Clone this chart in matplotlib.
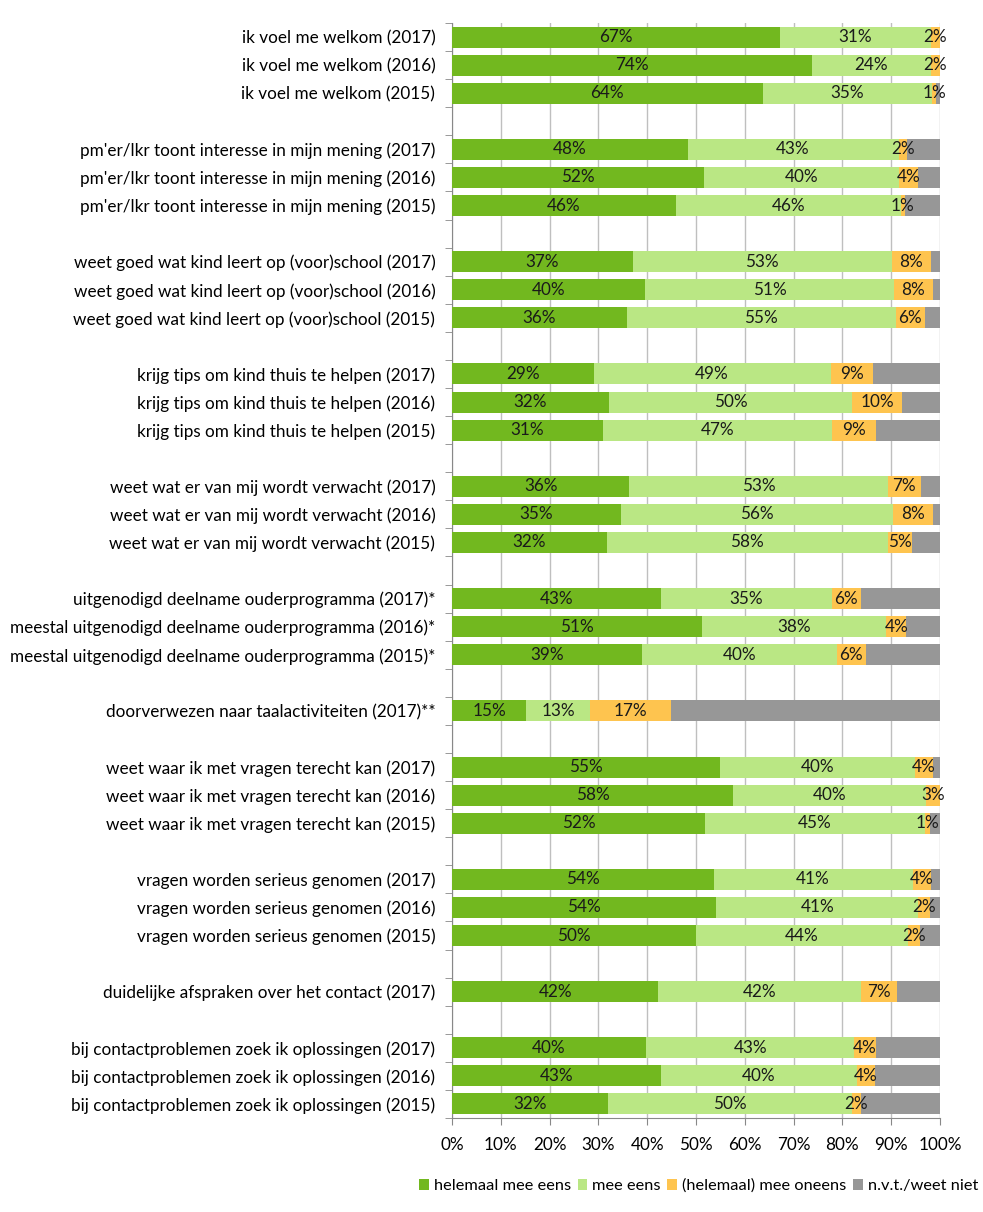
import matplotlib
matplotlib.use("Agg")
import matplotlib.pyplot as plt
import numpy as np
from matplotlib.patches import Patch

plt.rcParams['font.family'] = ['Lato', 'DejaVu Sans']

labels = [
    "ik voel me welkom (2017)", "ik voel me welkom (2016)", "ik voel me welkom (2015)",
    "pm'er/lkr toont interesse in mijn mening (2017)", "pm'er/lkr toont interesse in mijn mening (2016)",
    "pm'er/lkr toont interesse in mijn mening (2015)",
    "weet goed wat kind leert op (voor)school (2017)", "weet goed wat kind leert op (voor)school (2016)",
    "weet goed wat kind leert op (voor)school (2015)",
    "krijg tips om kind thuis te helpen (2017)", "krijg tips om kind thuis te helpen (2016)",
    "krijg tips om kind thuis te helpen (2015)",
    "weet wat er van mij wordt verwacht (2017)", "weet wat er van mij wordt verwacht (2016)",
    "weet wat er van mij wordt verwacht (2015)",
    "uitgenodigd deelname ouderprogramma (2017)*", "meestal uitgenodigd deelname ouderprogramma (2016)*",
    "meestal uitgenodigd deelname ouderprogramma (2015)*",
    "doorverwezen naar taalactiviteiten (2017)**",
    "weet waar ik met vragen terecht kan (2017)", "weet waar ik met vragen terecht kan (2016)",
    "weet waar ik met vragen terecht kan (2015)",
    "vragen worden serieus genomen (2017)", "vragen worden serieus genomen (2016)",
    "vragen worden serieus genomen (2015)",
    "duidelijke afspraken over het contact (2017)",
    "bij contactproblemen zoek ik oplossingen (2017)", "bij contactproblemen zoek ik oplossingen (2016)",
    "bij contactproblemen zoek ik oplossingen (2015)",
]
group = [0, 0, 0, 1, 1, 1, 2, 2, 2, 3, 3, 3, 4, 4, 4, 5, 5, 5, 6, 7, 7, 7, 8, 8, 8, 9, 10, 10, 10]

helemaal_mee_eens = [67.2, 73.7, 63.7, 48.3, 51.6, 45.8, 37.0, 39.6, 35.8, 29.0, 32.1, 30.9,
                     36.3, 34.6, 31.7, 42.8, 51.2, 38.9, 15.2, 54.9, 57.6, 51.8, 53.6, 54.2,
                     49.9, 42.3, 39.8, 42.8, 31.9]
mee_eens = [30.9, 24.4, 34.7, 43.2, 40.1, 46.2, 53.1, 50.9, 55.1, 48.6, 49.9, 46.9,
            53.0, 55.7, 57.6, 35.0, 37.8, 40.0, 13.1, 39.9, 39.6, 45.1, 40.8, 41.3,
            43.6, 41.6, 42.6, 40.1, 50.1]
mee_oneens = [1.9, 1.9, 0.8, 1.7, 3.7, 0.8, 8.1, 8.1, 6.0, 8.6, 10.3, 9.0,
              6.8, 8.2, 4.9, 6.0, 4.1, 5.9, 16.6, 3.8, 2.8, 1.1, 3.8, 2.4,
              2.4, 7.2, 4.4, 3.7, 1.8]
nvt = [0.0, 0.0, 0.8, 6.8, 4.6, 7.2, 1.8, 1.4, 3.0, 13.8, 7.7, 13.2,
       3.9, 1.5, 5.8, 16.2, 6.9, 15.2, 55.1, 1.4, 0.0, 2.0, 1.8, 2.1,
       4.1, 8.9, 13.2, 13.4, 16.2]

series_names = ["helemaal mee eens", "mee eens", "(helemaal) mee oneens", "n.v.t./weet niet"]
colors = ["#72B81F", "#BAE784", "#FEC44F", "#979797"]
xticks = [0, 10, 20, 30, 40, 50, 60, 70, 80, 90, 100]

series = [np.array(helemaal_mee_eens), np.array(mee_eens), np.array(mee_oneens), np.array(nvt)]
pos = np.arange(len(labels)) + np.array(group)
nrows = pos[-1] + 1

FS = 12.3

fig = plt.figure(figsize=(9.83, 12.12), dpi=100)
ax = fig.add_axes([452/983, 1 - 1118/1212, (940-452)/983, (1118-23)/1212])

left = np.zeros(len(labels))
for k, (vals, col) in enumerate(zip(series, colors)):
    ax.barh(pos, vals, left=left, height=0.75, color=col, zorder=3)
    if k < 3:
        for p, l, v in zip(pos, left, vals):
            if v > 0:
                ax.text(l + v / 2, p, f"{v:.0f}%", ha='center', va='center',
                        fontsize=FS, color='#1a1a1a', zorder=4)
    left = left + vals

ax.set_xlim(0, 100)
ax.set_ylim(nrows - 0.5, -0.5)
ax.set_xticks(xticks)
ax.set_xticklabels([f"{t}%" for t in xticks], fontsize=FS)
ax.xaxis.grid(True, color='#BFBFBF', linewidth=1, zorder=0)
ax.set_axisbelow(True)

ax.set_yticks(pos)
ax.set_yticklabels(labels, fontsize=FS)
ax.tick_params(axis='y', which='major', length=0, pad=12)
ax.set_yticks(np.arange(nrows + 1) - 0.5, minor=True)
ax.tick_params(axis='y', which='minor', length=5, color='#888888', direction='out')
ax.tick_params(axis='x', which='major', length=5, color='#888888', direction='out', pad=9)

for s in ['top', 'right']:
    ax.spines[s].set_visible(False)
for s in ['left', 'bottom']:
    ax.spines[s].set_color('#888888')

handles = [Patch(facecolor=c, label=n) for c, n in zip(colors, series_names)]
fig.legend(handles=handles, loc='center right', bbox_to_anchor=(978/983, 1 - 1186/1212), ncol=4,
           frameon=False, fontsize=11.8, handlelength=0.6, handleheight=0.6,
           handletextpad=0.3, columnspacing=0.4, borderpad=0, borderaxespad=0)

fig.savefig("out.png", dpi=100)
